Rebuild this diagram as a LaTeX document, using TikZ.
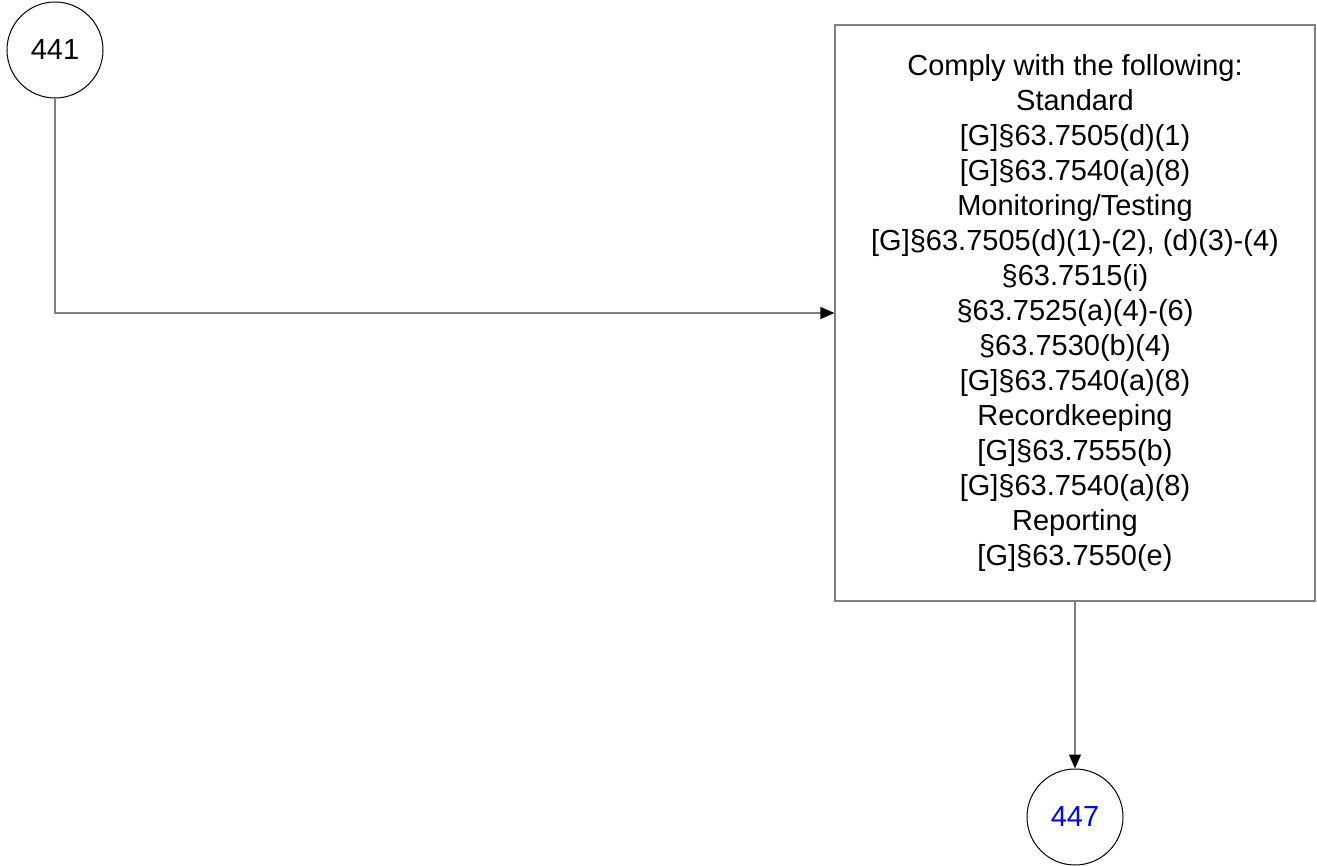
\documentclass[tikz,border=0pt]{standalone}
\usepackage{fontspec}
\setmainfont{Liberation Sans}
\usetikzlibrary{arrows.meta}
\definecolor{LinkGray}{gray}{0.5}
\definecolor{StepBlue}{HTML}{0000FF}

\begin{document}
\begin{tikzpicture}[x=1pt,y=-1pt, every node/.style={font=\fontsize{29}{35}\selectfont}]
  \useasboundingbox (0,0) rectangle (1317,866);
  \node[draw, line width=1pt, circle, minimum size=96pt, inner sep=0pt] (n441) at (55,50) {441};
  \node[draw=LinkGray, line width=1.2pt, minimum width=480pt, minimum height=576pt, align=center] (comply) at (1075,313) {Comply with the following:\\Standard\\{[G]}§63.7505(d)(1)\\{[G]}§63.7540(a)(8)\\Monitoring/Testing\\{[G]}§63.7505(d)(1)-(2), (d)(3)-(4)\\§63.7515(i)\\§63.7525(a)(4)-(6)\\§63.7530(b)(4)\\{[G]}§63.7540(a)(8)\\Recordkeeping\\{[G]}§63.7555(b)\\{[G]}§63.7540(a)(8)\\Reporting\\{[G]}§63.7550(e)};
  \node[draw, line width=1pt, circle, minimum size=96pt, inner sep=0pt, text=StepBlue] (n447) at (1075,817) {447};
  \draw[LinkGray, line width=1.2pt, -{Triangle[length=14pt,width=12pt,color=black]}] (n441.south) |- (comply.west);
  \draw[LinkGray, line width=1.2pt, -{Triangle[length=14pt,width=12pt,color=black]}] (comply.south) -- (n447.north);
\end{tikzpicture}
\end{document}
